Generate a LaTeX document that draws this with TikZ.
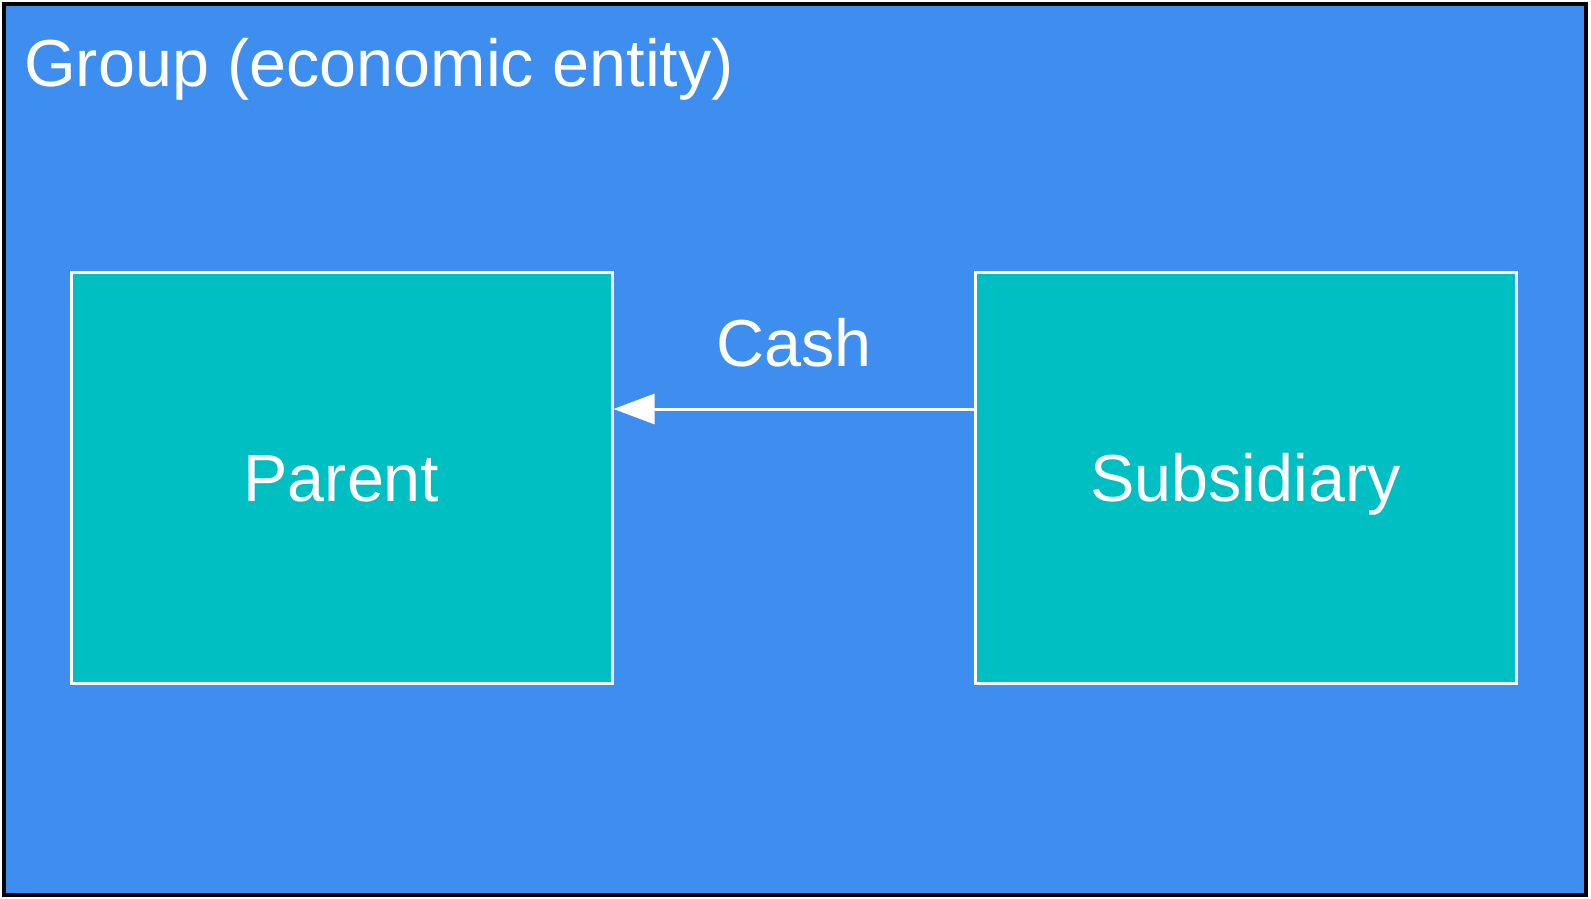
\documentclass[tikz,border=0pt]{standalone}
\usepackage{fontspec}
\setmainfont{Liberation Sans}
\usetikzlibrary{arrows.meta}
\definecolor{groupblue}{HTML}{3D8EEF}
\definecolor{entteal}{HTML}{00BFC3}
\tikzset{
  entity/.style={draw=white, line width=3pt, fill=entteal, minimum width=541pt, minimum height=411pt, inner sep=0pt, text=white, font=\fontsize{66.5}{80}\selectfont},
  lbl/.style={text=white, inner sep=0pt, font=\fontsize{66.5}{80}\selectfont},
  flow/.style={draw=white, line width=3pt, -{Triangle[length=41pt,width=30pt]}}
}
\begin{document}
\begin{tikzpicture}[x=1pt,y=-1pt]
\useasboundingbox (0,0) rectangle (1591,899);
\draw[draw=black, line width=4pt, fill=groupblue] (4,4) rectangle (1586,895);
\node[lbl, anchor=base west] (title) at (24,86) {Group (economic entity)};
\node[entity] (parent) at (341.5,477.5) {};
\node[lbl, anchor=base] (parentlbl) at (341.5,501) {Parent};
\node[entity] (sub) at (1245.5,477.5) {};
\node[lbl, anchor=base] (sublbl) at (1245.5,501) {Subsidiary};
\coordinate (s) at (sub.west |- 0,409);
\coordinate (p) at (parent.east |- 0,409);
\draw[flow] (s) -- (p);
\node[lbl, anchor=base] (cash) at (794,366) {Cash};
\end{tikzpicture}
\end{document}
